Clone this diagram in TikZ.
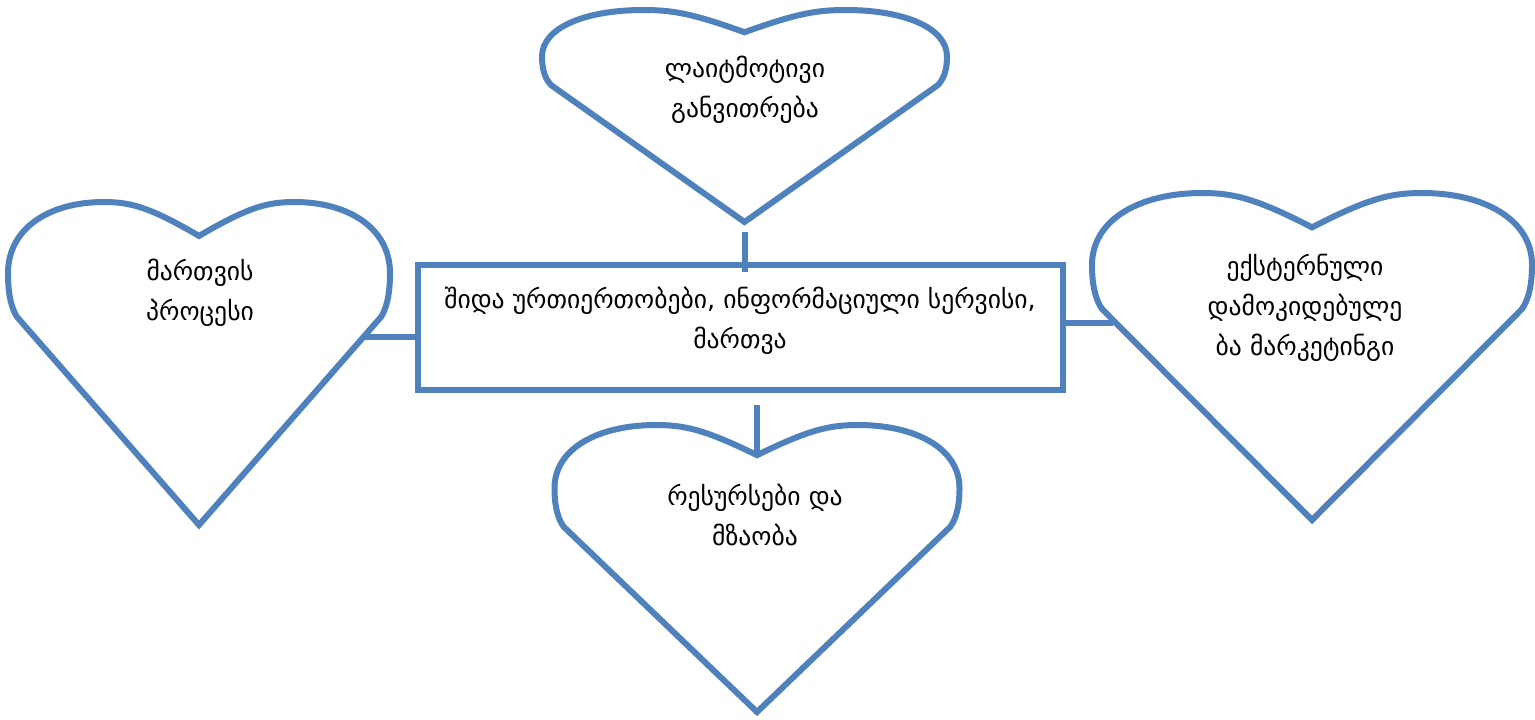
\documentclass[tikz,border=0pt]{standalone}
\usepackage{fontspec}
\newfontfamily\geo{DejaVu Sans}
\definecolor{ob}{HTML}{4F81BD}
\begin{document}
\begin{tikzpicture}[x=0.5pt,y=-0.5pt,
  heartline/.style={draw=ob,line width=3pt,line join=miter,fill=white},
  conn/.style={draw=ob,line width=3pt},
  connshadow/.style={draw=black!12,line width=3pt},
  lbl/.style={font=\geo\fontsize{12.8}{20}\selectfont,align=center,text=black,inner sep=0pt},
  heart/.pic={
    \draw[heartline] (0.5,1) -- (0.023,0.355)
      .. controls (0.01,0.33) and (0,0.29) .. (0,0.22)
      .. controls (0,0.08) and (0.11,0) .. (0.25,0)
      .. controls (0.32,0) and (0.37,0.015) .. (0.5,0.105)
      .. controls (0.63,0.015) and (0.68,0) .. (0.75,0)
      .. controls (0.89,0) and (1,0.08) .. (1,0.22)
      .. controls (1,0.29) and (0.99,0.33) .. (0.977,0.355)
      -- cycle;
    \coordinate (-dip) at (0.5,0.105);
    \coordinate (-tip) at (0.5,1);
  }
]
\useasboundingbox (0,0) rectangle (1535,719);

% connector end points
\coordinate (Tc1) at (745,232);
\coordinate (Tc2) at (745,272);
\coordinate (Lc) at (363,337);
\coordinate (Rc) at (1113,323);
\coordinate (Bc) at (757,405);

% hearts
\pic[xscale=405,yscale=212] (T) at (542,10) {heart};
\pic[xscale=382,yscale=323] (L) at (8,202) {heart};
\pic[xscale=440,yscale=327] (R) at (1092,193) {heart};
\pic[xscale=405,yscale=287] (B) at (554.5,425) {heart};

% central rectangle
\node[draw=ob,line width=3pt,minimum width=322.5pt,minimum height=62.5pt,inner sep=0pt] (mid) at (740.5,327.5) {};

% labels
\node[lbl] (Tt) at (745,90) {ლაიტმოტივი\\განვითრება};
\node[lbl] (Lt) at (200,293) {მართვის\\პროცესი};
\node[lbl] (Mt) at (740,321) {შიდა ურთიერთობები, ინფორმაციული სერვისი,\\მართვა};
\node[lbl] (Rt) at (1305,308) {ექსტერნული\\დამოკიდებულე\\ბა მარკეტინგი};
\node[lbl] (Bt) at (755,515) {რესურსები და\\მზაობა};

% connector shadows
\begin{scope}[shift={(2,3)}]
\draw[connshadow] (Tc1) -- (Tc2);
\draw[connshadow] (Lc) -- (mid.west |- Lc);
\draw[connshadow] (mid.east |- Rc) -- (Rc);
\draw[connshadow] (Bc) -- (B-dip);
\end{scope}

% connectors
\draw[conn] (Tc1) -- (Tc2);
\draw[conn] (Lc) -- (mid.west |- Lc);
\draw[conn] (mid.east |- Rc) -- (Rc);
\draw[conn] (Bc) -- (B-dip);
\end{tikzpicture}
\end{document}
